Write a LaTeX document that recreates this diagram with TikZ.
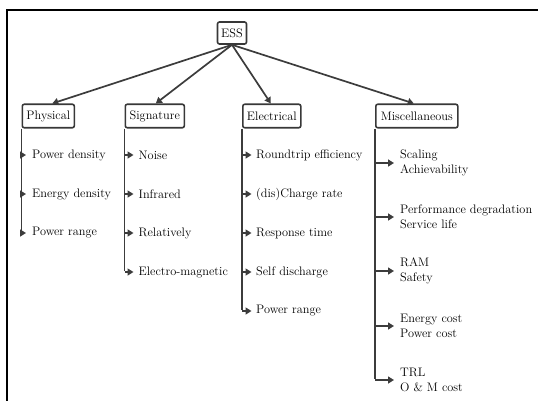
\documentclass[tikz,border=0pt]{standalone}
\usetikzlibrary{arrows.meta}
\definecolor{boxc}{HTML}{383838}
\definecolor{linec}{HTML}{3c3c3c}
\begin{document}
\begin{tikzpicture}[x=1pt,y=-1pt,
  font=\fontsize{12.3}{15}\selectfont,
  box/.style={draw=boxc, line width=1.6pt, rounded corners=2pt, inner sep=0pt, minimum height=23.5pt, text=black},
  item/.style={anchor=west, inner sep=0pt, align=left, text=black},
  conn/.style={draw=linec, line width=1.7pt},
  tipa/.style={-{Triangle[length=6pt,width=7pt]}}]
\useasboundingbox (0,0) rectangle (538,400);
\draw[line width=1.5pt] (7,401) -- (7,10) -- (539,10);

% top boxes
\node[box, minimum width=29pt, minimum height=22pt] (ess) at (232,33) {ESS};
\node[box, minimum width=52pt, anchor=west] (phys) at (21.5,116) {Physical};
\node[box, minimum width=59pt, anchor=west] (sig) at (124.5,116) {Signature};
\node[box, minimum width=58pt, anchor=west] (elec) at (242,116) {Electrical};
\node[box, minimum width=82pt, anchor=west] (misc) at (375,116) {Miscellaneous};

% connectors from ESS
\draw[conn,tipa] (ess.south) -- ([xshift=4pt]phys.north);
\draw[conn,tipa] (ess.south) -- ([xshift=1pt]sig.north);
\draw[conn,tipa] (ess.south) -- ([xshift=-1pt]elec.north);
\draw[conn,tipa] (ess.south) -- ([xshift=-3pt]misc.north);

% Physical
\node[item] (p1) at (32,155) {Power density};
\node[item] (p2) at (32,194) {Energy density};
\node[item] (p3) at (32,233) {Power range};
\draw[conn] (phys.south west) -- ([yshift=1.5pt]phys.south west |- p3.west);
\foreach \i in {p1,p2,p3}
  \draw[conn,tipa,shorten >=6pt] (phys.south west |- \i.west) -- (\i.west);

% Signature
\node[item] (s1) at (138.5,155) {Noise};
\node[item] (s2) at (138.5,194) {Infrared};
\node[item] (s3) at (138.5,233) {Relatively};
\node[item] (s4) at (138.5,272) {Electro-magnetic};
\draw[conn] (sig.south west) -- ([yshift=1.5pt]sig.south west |- s4.west);
\foreach \i in {s1,s2,s3,s4}
  \draw[conn,tipa,shorten >=5pt] (sig.south west |- \i.west) -- (\i.west);

% Electrical
\node[item] (e1) at (256,155) {Roundtrip efficiency};
\node[item] (e2) at (256,194) {(dis)Charge rate};
\node[item] (e3) at (256,233) {Response time};
\node[item] (e4) at (256,272) {Self discharge};
\node[item] (e5) at (256,311) {Power range};
\draw[conn] (elec.south west) -- ([yshift=1.5pt]elec.south west |- e5.west);
\foreach \i in {e1,e2,e3,e4,e5}
  \draw[conn,tipa,shorten >=4.5pt] (elec.south west |- \i.west) -- (\i.west);

% Miscellaneous
\node[item] (m1) at (400,163) {Scaling\\Achievability};
\node[item] (m2) at (400,217) {Performance degradation\\Service life};
\node[item] (m3) at (400,271) {RAM\\Safety};
\node[item] (m4) at (400,326) {Energy cost\\Power cost};
\node[item] (m5) at (400,380) {TRL\\O \& M cost};
\draw[conn] (misc.south west) -- ([yshift=0.8pt]misc.south west |- m5.west);
\foreach \i in {m1,m2,m3,m4,m5}
  \draw[conn,tipa,shorten >=6pt] (misc.south west |- \i.west) -- (\i.west);
\end{tikzpicture}
\end{document}
